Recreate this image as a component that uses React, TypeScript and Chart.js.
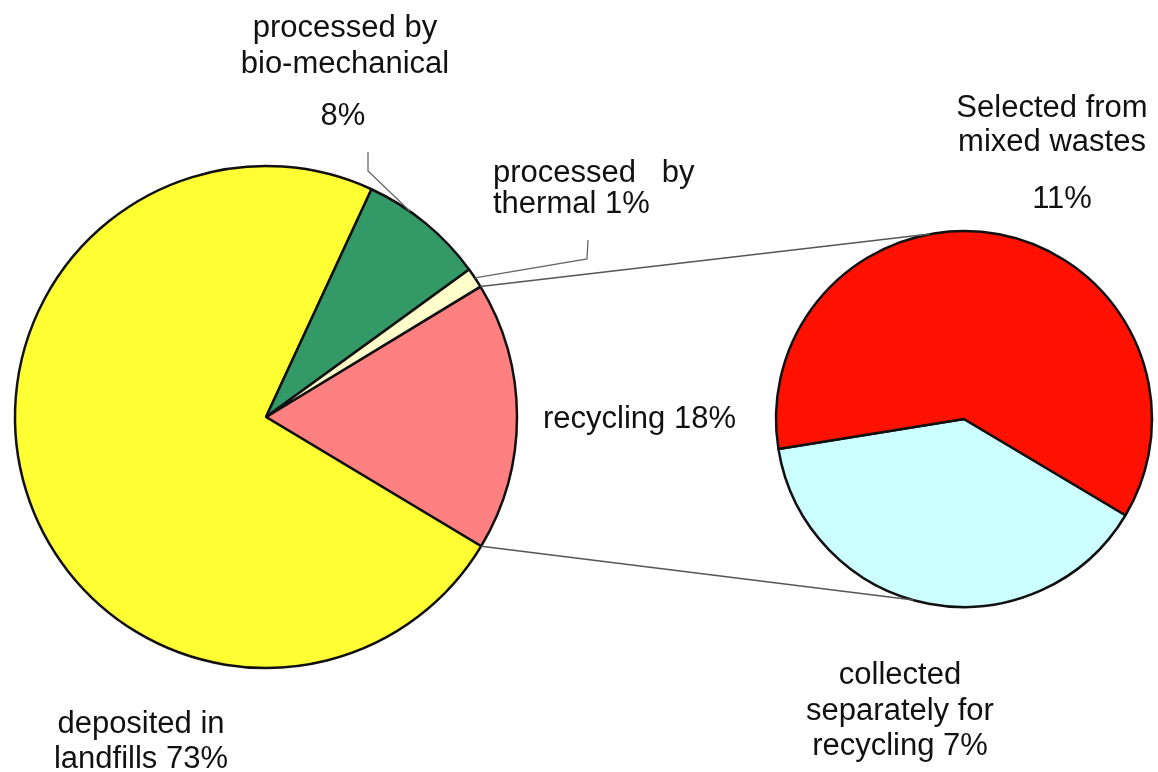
import React, { useEffect, useRef } from "react";
import { Chart, registerables } from "chart.js";

Chart.register(...registerables);

// ---- data ----
const mainCategories = [
  "recycling",
  "deposited in landfills",
  "processed by bio-mechanical",
  "processed by thermal",
];
const mainShares = [17.3, 73.3, 8.1, 1.3];
const mainColors = ["#FF8080", "#FFFF33", "#339966", "#FFFFCC"];

const subCategories = [
  "collected separately for recycling",
  "Selected from mixed wastes",
];
const subShares = [7, 11];
const subColors = ["#CCFFFF", "#FF1100"];

const labelBio = ["processed by", "bio-mechanical"];
const labelBioPct = "8%";
const labelThermal = ["processed   by", "thermal 1%"];
const labelRecycling = "recycling 18%";
const labelLandfill = ["deposited in", "landfills 73%"];
const labelSelected = ["Selected from", "mixed wastes"];
const labelSelectedPct = "11%";
const labelCollected = ["collected", "separately for", "recycling 7%"];

const W = 1158;
const H = 772;
const FONT = '31px "Liberation Sans", Arial, sans-serif';

export default function App() {
  const c1 = useRef<HTMLCanvasElement>(null);
  const c2 = useRef<HTMLCanvasElement>(null);

  useEffect(() => {
    const mainChart = new Chart(c1.current!, {
      type: "pie",
      data: {
        labels: mainCategories,
        datasets: [
          {
            data: mainShares,
            backgroundColor: mainColors,
            borderColor: "#111111",
            borderWidth: 2.5,
            hoverBorderWidth: 2.5,
            hoverOffset: 0,
            radius: 251,
          } as any,
        ],
      },
      options: {
        responsive: false,
        animation: false,
        events: [],
        rotation: 58.7,
        layout: { padding: { left: 0, right: W - 532, top: 62, bottom: 0 } },
        plugins: { legend: { display: false }, tooltip: { enabled: false } },
      },
    });

    const overlay = {
      id: "overlay",
      afterDraw(chart: any) {
        const ctx = chart.ctx as CanvasRenderingContext2D;
        const m = mainChart.getDatasetMeta(0).data as any[];
        const s = chart.getDatasetMeta(0).data[0] as any;
        const pt = (el: any, ang: number, r?: number) => [
          el.x + (r ?? el.outerRadius) * Math.cos(ang),
          el.y + (r ?? el.outerRadius) * Math.sin(ang),
        ];
        ctx.save();
        // connectors between pies
        const rec = m[0];
        const a0 = pt(rec, rec.startAngle);
        const a1 = pt(rec, rec.endAngle);
        const b0 = pt(s, (-100.4 * Math.PI) / 180);
        const b1 = pt(s, (105.6 * Math.PI) / 180);
        ctx.strokeStyle = "#555555";
        ctx.lineWidth = 1.5;
        ctx.beginPath();
        ctx.moveTo(a0[0], a0[1]);
        ctx.lineTo(b0[0], b0[1]);
        ctx.moveTo(a1[0], a1[1]);
        ctx.lineTo(b1[0], b1[1]);
        ctx.stroke();

        // leader lines
        ctx.strokeStyle = "#666666";
        ctx.lineWidth = 1.3;
        const g = m[2];
        const gp = pt(g, g.startAngle + 0.35 * (g.endAngle - g.startAngle));
        ctx.beginPath();
        ctx.moveTo(gp[0], gp[1]);
        ctx.lineTo(368, 171);
        ctx.lineTo(368, 152);
        ctx.stroke();
        const t = m[3];
        const tp = pt(t, (t.startAngle + t.endAngle) / 2);
        ctx.beginPath();
        ctx.moveTo(tp[0], tp[1]);
        ctx.lineTo(587, 259);
        ctx.lineTo(588, 240);
        ctx.stroke();

        // labels
        ctx.fillStyle = "#111111";
        ctx.font = FONT;
        ctx.textBaseline = "alphabetic";
        const lines = (arr: string[], x: number, y: number, lh: number, align: CanvasTextAlign) => {
          ctx.textAlign = align;
          arr.forEach((l, i) => ctx.fillText(l, x, y + i * lh));
        };
        lines(labelBio, 345, 37, 36, "center");
        lines([labelBioPct], 343, 125, 0, "center");
        lines(labelThermal, 493, 182, 31, "left");
        lines([labelRecycling], 543, 428, 0, "left");
        lines(labelLandfill, 141, 733, 35, "center");
        lines(labelSelected, 1052, 117, 34, "center");
        lines([labelSelectedPct], 1062, 208, 0, "center");
        lines(labelCollected, 900, 684, 35.5, "center");
        ctx.restore();
      },
    };

    const subChart = new Chart(c2.current!, {
      type: "pie",
      data: {
        labels: subCategories,
        datasets: [
          {
            data: subShares,
            backgroundColor: subColors,
            borderColor: "#111111",
            borderWidth: 2.5,
            hoverBorderWidth: 2.5,
            hoverOffset: 0,
            radius: 188,
          } as any,
        ],
      },
      options: {
        responsive: false,
        animation: false,
        events: [],
        rotation: 120.8,
        layout: { padding: { left: 770, right: 0, top: 66, bottom: 0 } },
        plugins: { legend: { display: false }, tooltip: { enabled: false } },
      },
      plugins: [overlay],
    });

    return () => {
      subChart.destroy();
      mainChart.destroy();
    };
  }, []);

  return (
    <div
      style={{
        position: "absolute",
        left: 0,
        top: 0,
        width: W,
        height: H,
        background: "#ffffff",
        overflow: "hidden",
      }}
    >
      <canvas
        ref={c1}
        width={W}
        height={H}
        style={{ position: "absolute", left: 0, top: 0, width: W, height: H }}
      />
      <canvas
        ref={c2}
        width={W}
        height={H}
        style={{ position: "absolute", left: 0, top: 0, width: W, height: H }}
      />
    </div>
  );
}
